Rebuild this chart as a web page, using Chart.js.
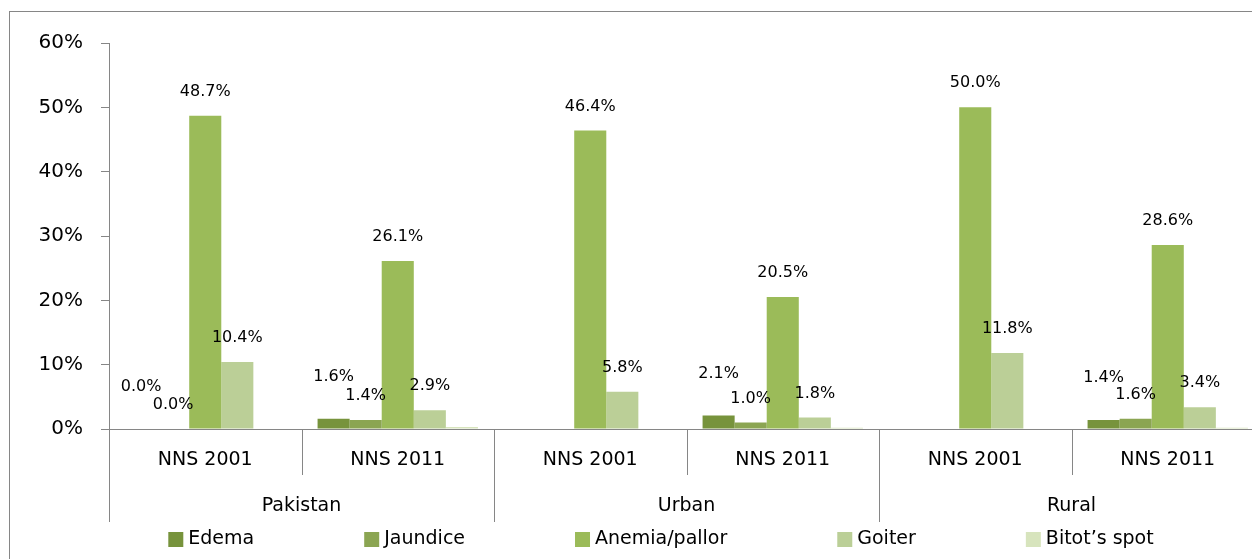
<!DOCTYPE html>
<html>
<head>
<meta charset="utf-8">
<script src="https://cdn.jsdelivr.net/npm/chart.js@4"></script>
<style>
  html, body { margin: 0; padding: 0; background: #fff; overflow: hidden; width: 1252px; height: 559px; }
  #frame { position: absolute; left: 9px; top: 11px; width: 1400px; height: 700px; border: 1px solid #868686; }
  #chart_Nns { position: absolute; left: 0; top: 0; }
</style>
</head>
<body>
<div id="frame"></div>
<canvas id="chart_Nns" width="1270" height="559"></canvas>
<script>
var surveys = ["NNS 2001", "NNS 2011", "NNS 2001", "NNS 2011", "NNS 2001", "NNS 2011"];
var regions = ["Pakistan", "Urban", "Rural"];
var edema    = [0.0, 1.6, null, 2.1, null, 1.4];
var jaundice = [0.0, 1.4, null, 1.0, null, 1.6];
var anemia   = [48.7, 26.1, 46.4, 20.5, 50.0, 28.6];
var goiter   = [10.4, 2.9, 5.8, 1.8, 11.8, 3.4];
var bitot    = [null, 0.3, null, 0.2, null, 0.2];
var yTicks = [0, 10, 20, 30, 40, 50, 60];

var axisGrey = "#868686";
var fontName = "'DejaVu Sans', sans-serif";

// labels above bars, edema labels sit higher
var labelLift = [42, 24, 24, 24, 0];
var showLabel = [true, true, true, true, false];

var extrasPlugin = {
  id: 'extras',
  afterDraw: function (chart) {
    var ctx = chart.ctx;
    var xs = chart.scales.x;
    var area = chart.chartArea;
    var n = chart.data.labels.length;
    var catW = (xs.right - xs.left) / n;

    ctx.save();
    // category separators
    ctx.strokeStyle = axisGrey;
    ctx.lineWidth = 1;
    for (var i = 0; i <= n; i++) {
      var x = Math.round(xs.left + i * catW) + 0.5;
      var bottom = (i % 2 === 0) ? 522 : 475;
      ctx.beginPath();
      ctx.moveTo(x, area.bottom);
      ctx.lineTo(x, bottom);
      ctx.stroke();
    }

    // region labels
    ctx.fillStyle = "#000";
    ctx.font = "19px " + fontName;
    ctx.textAlign = "center";
    ctx.textBaseline = "middle";
    for (var g = 0; g < regions.length; g++) {
      ctx.fillText(regions[g], xs.left + (2 * g + 1) * catW, 506);
    }

    // value labels
    ctx.font = "16px " + fontName;
    chart.data.datasets.forEach(function (ds, d) {
      if (!showLabel[d]) return;
      var meta = chart.getDatasetMeta(d);
      meta.data.forEach(function (bar, i) {
        var v = ds.data[i];
        if (v === null || v === undefined) return;
        ctx.fillText(v.toFixed(1) + "%", bar.x, bar.y - labelLift[d]);
      });
    });

    // legend
    ctx.font = "19px " + fontName;
    ctx.textAlign = "left";
    var box = 15, gap = 5, spacing = 110;
    var total = 0;
    chart.data.datasets.forEach(function (ds, d) {
      total += box + gap + ctx.measureText(ds.label).width;
      if (d > 0) total += spacing;
    });
    var lx = 661 - total / 2;
    chart.data.datasets.forEach(function (ds) {
      ctx.fillStyle = ds.backgroundColor;
      ctx.fillRect(lx, 532, box, box);
      ctx.fillStyle = "#000";
      ctx.fillText(ds.label, lx + box + gap, 539.5);
      lx += box + gap + ctx.measureText(ds.label).width + spacing;
    });
    ctx.restore();
  }
};

new Chart(document.getElementById("chart_Nns"), {
  type: 'bar',
  data: {
    labels: surveys,
    datasets: [
      { label: "Edema", data: edema, backgroundColor: "#77933C" },
      { label: "Jaundice", data: jaundice, backgroundColor: "#8BA552" },
      { label: "Anemia/pallor", data: anemia, backgroundColor: "#9BBB59" },
      { label: "Goiter", data: goiter, backgroundColor: "#BBCF97" },
      { label: "Bitot\u2019s spot", data: bitot, backgroundColor: "#D7E4BD" }
    ]
  },
  options: {
    responsive: false,
    animation: false,
    devicePixelRatio: 1,
    layout: { padding: { top: 43, right: 6, left: 0, bottom: 0 } },
    datasets: { bar: { categoryPercentage: 0.833, barPercentage: 1.0 } },
    plugins: {
      legend: { display: false },
      tooltip: { enabled: false }
    },
    scales: {
      x: {
        grid: { display: false, drawTicks: false },
        border: { display: true, color: axisGrey, width: 1 },
        ticks: { color: "#000", font: { family: fontName, size: 19 }, padding: 20, maxRotation: 0 },
        afterFit: function (scale) { scale.height = 130; }
      },
      y: {
        min: 0,
        max: 60,
        afterBuildTicks: function (scale) {
          scale.ticks = yTicks.map(function (v) { return { value: v }; });
        },
        grid: { drawOnChartArea: false, drawTicks: true, tickLength: 8, color: axisGrey },
        border: { display: true, color: axisGrey, width: 1 },
        ticks: {
          color: "#000",
          font: { family: fontName, size: 20 },
          padding: 18,
          callback: function (v) { return v + "%"; }
        },
        afterFit: function (scale) { scale.width = 109; }
      }
    }
  },
  plugins: [extrasPlugin]
});
</script>
</body>
</html>
